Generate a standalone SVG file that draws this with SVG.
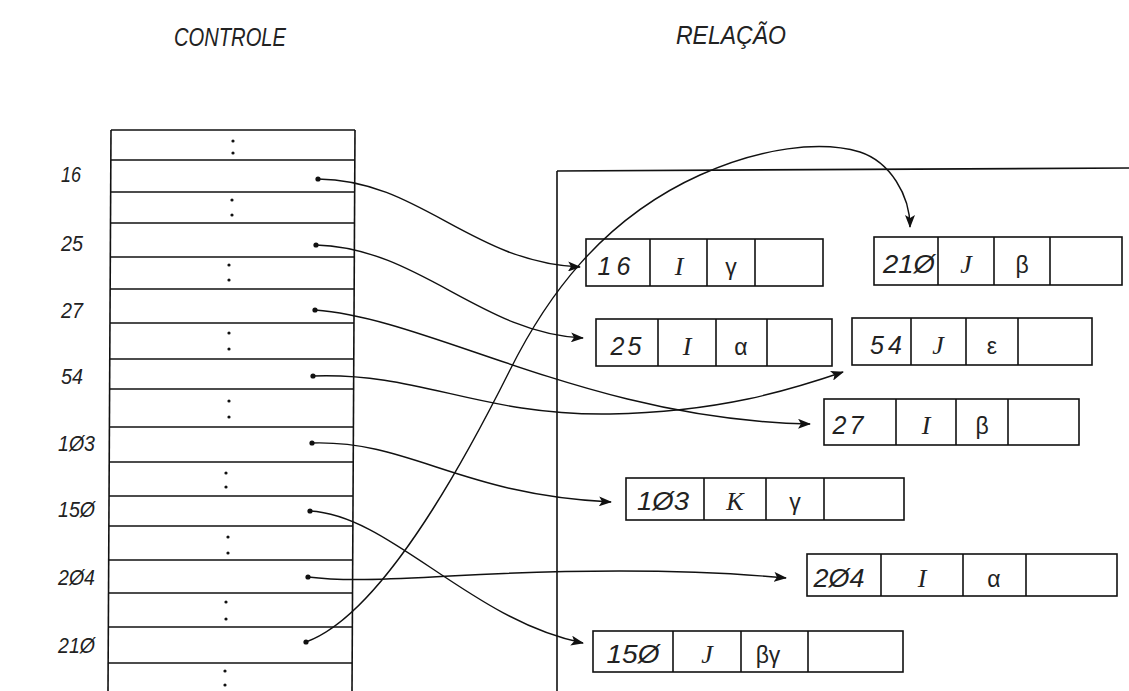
<svg xmlns="http://www.w3.org/2000/svg" width="1129" height="691" viewBox="0 0 1129 691">
<style>
  .ln{stroke:#111;stroke-width:1.6;fill:none}
  .box{stroke:#111;stroke-width:1.6;fill:none}
  .t{font-family:"Liberation Sans","DejaVu Sans",sans-serif;font-style:italic;font-size:25px;fill:#222;text-anchor:middle}
  .s{font-family:"Liberation Serif","DejaVu Serif",serif;font-style:italic;font-size:26px;fill:#222;text-anchor:middle}
  .g{font-family:"Liberation Sans","DejaVu Sans",sans-serif;font-size:23px;fill:#222;text-anchor:middle}
  .lbl{font-family:"Liberation Sans","DejaVu Sans",sans-serif;font-style:italic;font-size:22px;fill:#222}
  .hd{font-family:"Liberation Sans","DejaVu Sans",sans-serif;font-style:italic;font-size:25px;fill:#222}
  .dot{fill:#111}
  .cn{stroke:#111;stroke-width:1.4;fill:none;marker-end:url(#ah)}
</style>
<defs>
  <marker id="ah" markerUnits="userSpaceOnUse" markerWidth="14" markerHeight="10" refX="12" refY="5" orient="auto">
    <path d="M0,0 L13,5 L0,10 L3,5 Z" fill="#111"/>
  </marker>
</defs>
<rect width="1129" height="691" fill="#fff"/>

<g id="headers">
  <text class="hd" x="174" y="46" textLength="112" lengthAdjust="spacingAndGlyphs">CONTROLE</text>
  <text class="hd" x="676" y="44" textLength="110" lengthAdjust="spacingAndGlyphs">RELAÇÃO</text>
</g>

<g id="controle">
  <line class="ln" x1="111" y1="130" x2="108" y2="691"/>
  <line class="ln" x1="355" y1="130" x2="352" y2="691"/>
  <g class="ln">
    <line x1="111" y1="130" x2="355" y2="130"/>
    <line x1="111" y1="160" x2="355" y2="160"/>
    <line x1="111" y1="192" x2="355" y2="192"/>
    <line x1="110" y1="223" x2="355" y2="223"/>
    <line x1="110" y1="257" x2="354" y2="257"/>
    <line x1="110" y1="289" x2="354" y2="289"/>
    <line x1="110" y1="323" x2="354" y2="323"/>
    <line x1="110" y1="359" x2="354" y2="359"/>
    <line x1="110" y1="389" x2="354" y2="389"/>
    <line x1="110" y1="427" x2="353" y2="427"/>
    <line x1="109" y1="462" x2="353" y2="462"/>
    <line x1="109" y1="496" x2="353" y2="496"/>
    <line x1="109" y1="526" x2="353" y2="526"/>
    <line x1="109" y1="560" x2="352" y2="560"/>
    <line x1="109" y1="593" x2="352" y2="593"/>
    <line x1="108" y1="627" x2="352" y2="627"/>
    <line x1="108" y1="663" x2="352" y2="663"/>
  </g>
  <g class="dot">
    <circle cx="233" cy="141" r="1.6"/><circle cx="233" cy="153" r="1.6"/>
    <circle cx="232" cy="200" r="1.6"/><circle cx="232" cy="215" r="1.6"/>
    <circle cx="229" cy="265" r="1.6"/><circle cx="229" cy="280" r="1.6"/>
    <circle cx="229" cy="333" r="1.6"/><circle cx="229" cy="349" r="1.6"/>
    <circle cx="229" cy="401" r="1.6"/><circle cx="229" cy="417" r="1.6"/>
    <circle cx="226" cy="473" r="1.6"/><circle cx="226" cy="487" r="1.6"/>
    <circle cx="228" cy="537" r="1.6"/><circle cx="228" cy="553" r="1.6"/>
    <circle cx="226" cy="602" r="1.6"/><circle cx="226" cy="619" r="1.6"/>
    <circle cx="225" cy="671" r="1.6"/><circle cx="225" cy="685" r="1.6"/>
  </g>
  <g class="dot">
    <circle cx="318" cy="179" r="2.6"/>
    <circle cx="316" cy="245" r="2.6"/>
    <circle cx="315" cy="310" r="2.6"/>
    <circle cx="313" cy="376" r="2.6"/>
    <circle cx="312" cy="443" r="2.6"/>
    <circle cx="310" cy="511" r="2.6"/>
    <circle cx="308" cy="577" r="2.6"/>
    <circle cx="306" cy="642" r="2.6"/>
  </g>
</g>

<g id="keys">
  <text class="lbl" x="61" y="182" textLength="20" lengthAdjust="spacingAndGlyphs">16</text>
  <text class="lbl" x="61" y="251" textLength="22" lengthAdjust="spacingAndGlyphs">25</text>
  <text class="lbl" x="61" y="318" textLength="22" lengthAdjust="spacingAndGlyphs">27</text>
  <text class="lbl" x="61" y="384" textLength="22" lengthAdjust="spacingAndGlyphs">54</text>
  <text class="lbl" x="58" y="451" textLength="37" lengthAdjust="spacingAndGlyphs">1Ø3</text>
  <text class="lbl" x="58" y="517" textLength="37" lengthAdjust="spacingAndGlyphs">15Ø</text>
  <text class="lbl" x="58" y="585" textLength="37" lengthAdjust="spacingAndGlyphs">2Ø4</text>
  <text class="lbl" x="58" y="653" textLength="37" lengthAdjust="spacingAndGlyphs">21Ø</text>
</g>

<g id="relacao">
  <line class="ln" x1="557" y1="171" x2="1129" y2="168"/>
  <line class="ln" x1="557" y1="171" x2="557" y2="691"/>
</g>

<g id="r16">
  <rect class="box" x="586" y="239" width="237" height="47"/>
  <line class="ln" x1="650" y1="239" x2="650" y2="286"/>
  <line class="ln" x1="707" y1="239" x2="707" y2="286"/>
  <line class="ln" x1="755" y1="239" x2="755" y2="286"/>
  <text class="t" x="614" y="275" textLength="33" lengthAdjust="spacing">16</text>
  <text class="s" x="679" y="275">I</text>
  <text class="g" x="731" y="275">γ</text>
</g>
<g id="r210">
  <rect class="box" x="874" y="237" width="248" height="48"/>
  <line class="ln" x1="938" y1="237" x2="938" y2="285"/>
  <line class="ln" x1="994" y1="237" x2="994" y2="285"/>
  <line class="ln" x1="1050" y1="237" x2="1050" y2="285"/>
  <text class="t" x="909" y="273" textLength="52" lengthAdjust="spacingAndGlyphs">21Ø</text>
  <text class="s" x="966" y="273">J</text>
  <text class="g" x="1022" y="273">β</text>
</g>
<g id="r25">
  <rect class="box" x="596" y="319" width="236" height="47"/>
  <line class="ln" x1="658" y1="319" x2="658" y2="366"/>
  <line class="ln" x1="716" y1="319" x2="716" y2="366"/>
  <line class="ln" x1="767" y1="319" x2="767" y2="366"/>
  <text class="t" x="626" y="355" textLength="31" lengthAdjust="spacing">25</text>
  <text class="s" x="687" y="355">I</text>
  <text class="g" x="741" y="355">α</text>
</g>
<g id="r54">
  <rect class="box" x="852" y="318" width="240" height="47"/>
  <line class="ln" x1="911" y1="318" x2="911" y2="365"/>
  <line class="ln" x1="966" y1="318" x2="966" y2="365"/>
  <line class="ln" x1="1018" y1="318" x2="1018" y2="365"/>
  <text class="t" x="886" y="354" textLength="32" lengthAdjust="spacing">54</text>
  <text class="s" x="938" y="354">J</text>
  <text class="g" x="992" y="354">ε</text>
</g>
<g id="r27">
  <rect class="box" x="824" y="399" width="255" height="46"/>
  <line class="ln" x1="896" y1="399" x2="896" y2="445"/>
  <line class="ln" x1="956" y1="399" x2="956" y2="445"/>
  <line class="ln" x1="1008" y1="399" x2="1008" y2="445"/>
  <text class="t" x="848" y="434" textLength="31" lengthAdjust="spacing">27</text>
  <text class="s" x="926" y="434">I</text>
  <text class="g" x="982" y="434">β</text>
</g>
<g id="r103">
  <rect class="box" x="626" y="478" width="278" height="42"/>
  <line class="ln" x1="704" y1="478" x2="704" y2="520"/>
  <line class="ln" x1="766" y1="478" x2="766" y2="520"/>
  <line class="ln" x1="824" y1="478" x2="824" y2="520"/>
  <text class="t" x="663" y="510" textLength="52" lengthAdjust="spacingAndGlyphs">1Ø3</text>
  <text class="s" x="735" y="510">K</text>
  <text class="g" x="795" y="510">γ</text>
</g>
<g id="r204">
  <rect class="box" x="807" y="554" width="310" height="42"/>
  <line class="ln" x1="881" y1="554" x2="881" y2="596"/>
  <line class="ln" x1="963" y1="554" x2="963" y2="596"/>
  <line class="ln" x1="1026" y1="554" x2="1026" y2="596"/>
  <text class="t" x="839" y="587" textLength="51" lengthAdjust="spacingAndGlyphs">2Ø4</text>
  <text class="s" x="922" y="587">I</text>
  <text class="g" x="994" y="587">α</text>
</g>
<g id="r150">
  <rect class="box" x="593" y="631" width="310" height="41"/>
  <line class="ln" x1="673" y1="631" x2="673" y2="672"/>
  <line class="ln" x1="741" y1="631" x2="741" y2="672"/>
  <line class="ln" x1="808" y1="631" x2="808" y2="672"/>
  <text class="t" x="633" y="663" textLength="53" lengthAdjust="spacingAndGlyphs">15Ø</text>
  <text class="s" x="707" y="663">J</text>
  <text class="g" x="768" y="663">βγ</text>
</g>

<g id="connectors">
  <path class="cn" d="M318,179 C420,180 470,262 580,267"/>
  <path class="cn" d="M316,245 C420,248 480,333 583,338"/>
  <path class="cn" d="M315,310 C430,318 590,420 810,424"/>
  <path class="cn" d="M313,376 C420,372 480,416 610,414 C720,412 790,390 843,372"/>
  <path class="cn" d="M312,443 C410,440 460,495 611,502"/>
  <path class="cn" d="M310,511 C390,515 470,620 583,643"/>
  <path class="cn" d="M308,577 C340,581 380,580 450,576 C560,570 680,568 786,578"/>
  <path class="cn" d="M306,642 C380,615 460,470 510,370 C545,300 600,220 700,175 C760,148 820,140 860,152 C890,162 910,195 910,227"/>
</g>
</svg>
